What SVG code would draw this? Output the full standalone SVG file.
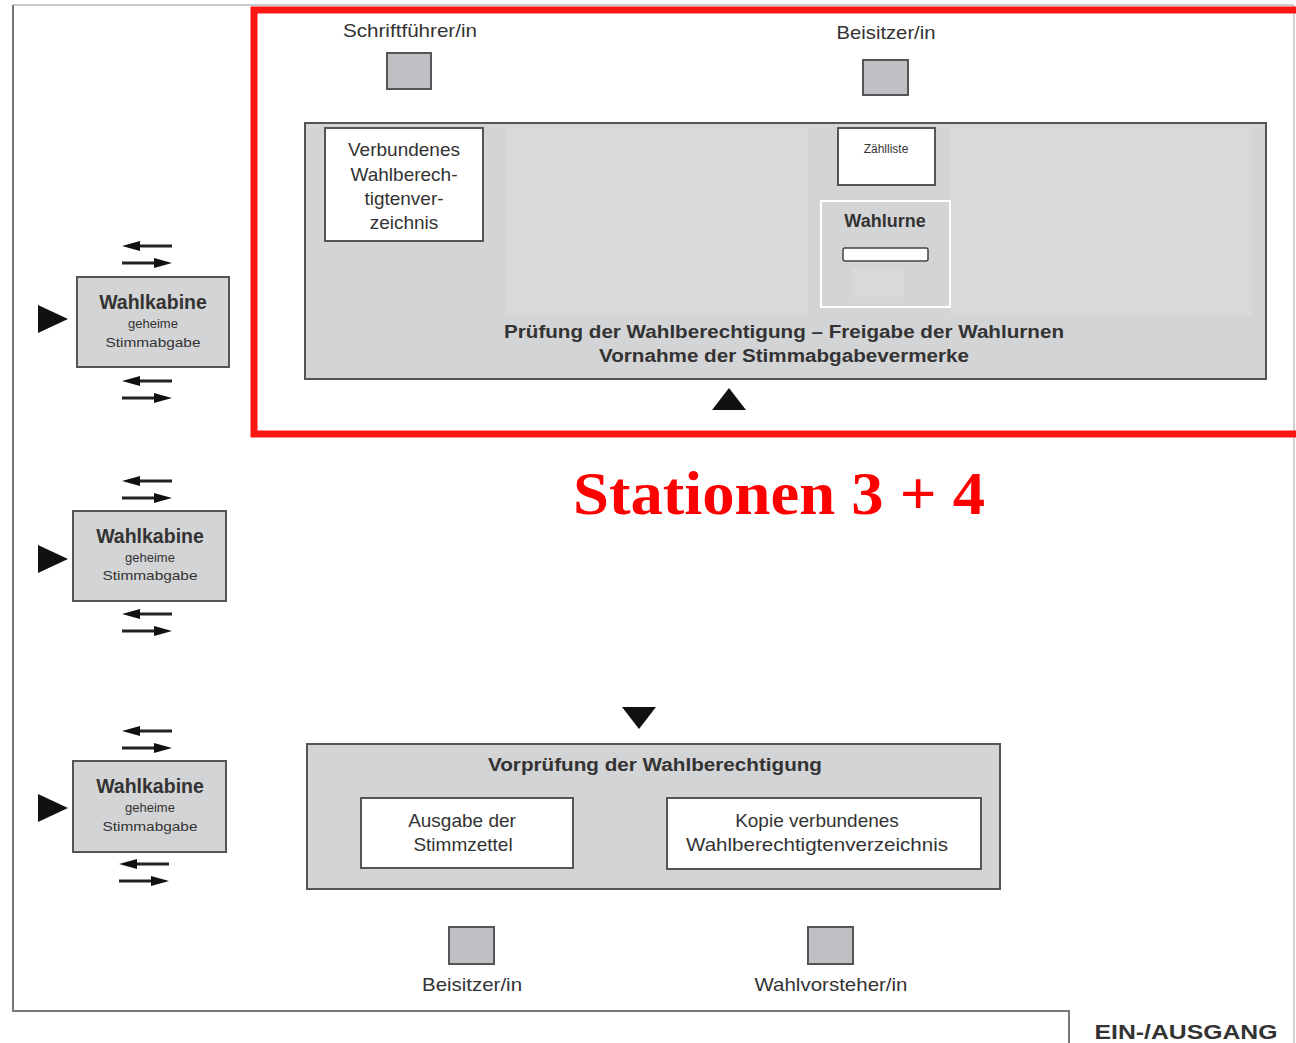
<svg xmlns="http://www.w3.org/2000/svg" width="1296" height="1043" viewBox="0 0 1296 1043">
<style>
text{font-family:"Liberation Sans",Arial,sans-serif;fill:#333;text-anchor:middle}
.b{font-weight:bold}
.serif{font-family:"Liberation Serif","Times New Roman",serif;font-weight:bold;fill:#ff0000}
.box{fill:#d3d4d6;stroke:#555;stroke-width:2}
.wbox{fill:#fff;stroke:#555;stroke-width:2}
.sq{fill:#bfc0c3;stroke:#555;stroke-width:2}
.ln{stroke:#222;stroke-width:3}
.tri{fill:#111}
</style>
<defs>
<g id="arrows">
<line class="ln" x1="136" y1="0" x2="172" y2="0"/><polygon class="tri" points="122,0 140,-5 140,5"/>
<line class="ln" x1="122" y1="17" x2="158" y2="17"/><polygon class="tri" points="172,17 154,12 154,22"/>
</g>
</defs>
<rect width="1296" height="1043" fill="#fff"/>
<g id="frame" fill="none">
<line x1="13" y1="5" x2="1294" y2="5" stroke="#c8c8c8" stroke-width="2"/>
<line x1="1294" y1="5" x2="1294" y2="1043" stroke="#d0d0d0" stroke-width="2"/>
<polyline points="13,5 13,1011 1069,1011 1069,1043" stroke="#777" stroke-width="2"/>
</g>
<g id="red-frame"><polyline points="1300,10 254,10 254,434 1300,434" fill="none" stroke="#ff1414" stroke-width="7"/></g>

<g id="schriftfuehrer"><text x="410" y="37" font-size="19" textLength="134" lengthAdjust="spacingAndGlyphs">Schriftführer/in</text><rect class="sq" x="387" y="53" width="44" height="36"/></g>
<g id="beisitzer-top"><text x="886" y="39" font-size="19" textLength="99" lengthAdjust="spacingAndGlyphs">Beisitzer/in</text><rect class="sq" x="863" y="60" width="45" height="35"/></g>

<g id="station3">
<rect class="box" x="305" y="123" width="961" height="256"/>
<rect x="505" y="128" width="303" height="187" fill="#d9d9d9"/>
<rect x="950" y="128" width="302" height="187" fill="#d9d9d9"/>
<text class="b" x="784" y="338" font-size="18" textLength="560" lengthAdjust="spacingAndGlyphs">Prüfung der Wahlberechtigung – Freigabe der Wahlurnen</text>
<text class="b" x="784" y="362" font-size="18" textLength="370" lengthAdjust="spacingAndGlyphs">Vornahme der Stimmabgabevermerke</text>
</g>
<g id="verzeichnis"><rect class="wbox" x="325" y="128" width="158" height="113"/>
<text x="404" y="156" font-size="19">Verbundenes</text><text x="404" y="181" font-size="19">Wahlberech-</text><text x="404" y="205" font-size="19">tigtenver-</text><text x="404" y="229" font-size="19">zeichnis</text></g>
<g id="zaehlliste"><rect class="wbox" x="838" y="128" width="97" height="57"/><text x="886" y="153" font-size="12">Zählliste</text></g>
<g id="wahlurne"><rect x="821" y="201" width="129" height="106" fill="#d3d4d6" stroke="#fff" stroke-width="2"/>
<text class="b" x="885" y="227" font-size="18">Wahlurne</text>
<rect x="843" y="248" width="85" height="13" rx="2" fill="#fff" stroke="#444" stroke-width="1.5"/>
<rect x="852" y="268" width="52" height="29" fill="#d9d9d9"/></g>

<g id="wahlkabine1"><rect class="box" x="77" y="277" width="152" height="90"/>
<text class="b" x="153" y="309" font-size="19.5">Wahlkabine</text><text x="153" y="328" font-size="13">geheime</text><text x="153" y="347" font-size="13.5" textLength="95" lengthAdjust="spacingAndGlyphs">Stimmabgabe</text></g>
<g id="wahlkabine2"><rect class="box" x="73" y="511" width="153" height="90"/>
<text class="b" x="150" y="543" font-size="19.5">Wahlkabine</text><text x="150" y="562" font-size="13">geheime</text><text x="150" y="580" font-size="13.5" textLength="95" lengthAdjust="spacingAndGlyphs">Stimmabgabe</text></g>
<g id="wahlkabine3"><rect class="box" x="73" y="761" width="153" height="91"/>
<text class="b" x="150" y="793" font-size="19.5">Wahlkabine</text><text x="150" y="812" font-size="13">geheime</text><text x="150" y="831" font-size="13.5" textLength="95" lengthAdjust="spacingAndGlyphs">Stimmabgabe</text></g>

<g id="title"><text class="serif" x="779" y="514" font-size="62" textLength="412" lengthAdjust="spacingAndGlyphs">Stationen 3 + 4</text></g>

<g id="station2">
<rect class="box" x="307" y="744" width="693" height="145"/>
<text class="b" x="655" y="771" font-size="18" textLength="334" lengthAdjust="spacingAndGlyphs">Vorprüfung der Wahlberechtigung</text>
</g>
<g id="ausgabe"><rect class="wbox" x="361" y="798" width="212" height="70"/><text x="462" y="827" font-size="19">Ausgabe der</text><text x="463" y="851" font-size="19">Stimmzettel</text></g>
<g id="kopie"><rect class="wbox" x="667" y="798" width="314" height="71"/><text x="817" y="827" font-size="19">Kopie verbundenes</text><text x="817" y="851" font-size="19" textLength="262" lengthAdjust="spacingAndGlyphs">Wahlberechtigtenverzeichnis</text></g>

<g id="beisitzer-bottom"><rect class="sq" x="449" y="927" width="45" height="37"/><text x="472" y="991" font-size="19" textLength="100" lengthAdjust="spacingAndGlyphs">Beisitzer/in</text></g>
<g id="wahlvorsteher"><rect class="sq" x="808" y="927" width="45" height="37"/><text x="831" y="991" font-size="19" textLength="153" lengthAdjust="spacingAndGlyphs">Wahlvorsteher/in</text></g>

<g id="ausgang"><text class="b" x="1186" y="1039" font-size="20" textLength="183" lengthAdjust="spacingAndGlyphs">EIN-/AUSGANG</text></g>

<g id="connectors">
<polygon class="tri" points="712,410 746,410 729,388"/>
<polygon class="tri" points="622,707 656,707 639,729"/>
<polygon class="tri" points="38,305 38,333 68,319"/>
<polygon class="tri" points="38,545 38,573 68,559"/>
<polygon class="tri" points="38,794 38,822 68,808"/>
<use href="#arrows" y="246"/>
<use href="#arrows" y="381"/>
<use href="#arrows" y="481"/>
<use href="#arrows" y="614"/>
<use href="#arrows" x="0" y="731"/>
<use href="#arrows" x="-3" y="864"/>
</g>
</svg>
